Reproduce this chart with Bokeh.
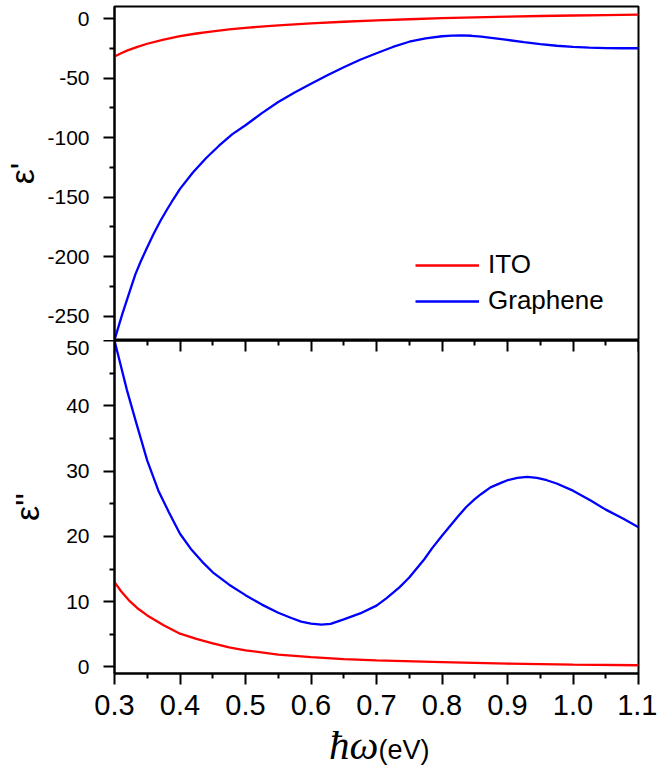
from bokeh.plotting import figure
from bokeh.layouts import column
from bokeh.models import (Range1d, FixedTicker, LinearAxis, Legend, LegendItem,
                          NumeralTickFormatter, Div)
from bokeh.embed import file_html
from bokeh.resources import INLINE

# ---------------- data ----------------
# real part (top panel)
x_ito_re = [0.300, 0.310, 0.320, 0.335, 0.350, 0.375, 0.400, 0.425, 0.450, 0.475,
            0.500, 0.550, 0.600, 0.650, 0.700, 0.750, 0.800, 0.850, 0.900, 0.950,
            1.000, 1.050, 1.100]
eps1_ito = [-31.7, -29.0, -26.6, -23.6, -21.0, -17.5, -14.6, -12.4, -10.6, -9.0,
            -7.6, -5.5, -3.8, -2.5, -1.4, -0.4, 0.5, 1.2, 1.8, 2.3,
            2.75, 3.1, 3.4]

x_gr_re = [0.300, 0.306, 0.312, 0.320, 0.326, 0.332, 0.340, 0.350, 0.360, 0.370,
           0.380, 0.390, 0.400, 0.420, 0.440, 0.460, 0.480, 0.500, 0.525, 0.550,
           0.575, 0.600, 0.625, 0.650, 0.675, 0.700, 0.725, 0.750, 0.775, 0.800,
           0.815, 0.830, 0.845, 0.860, 0.875, 0.900, 0.925, 0.950, 0.975, 1.000,
           1.025, 1.050, 1.075, 1.100]
eps1_gr = [-270.0, -259.0, -248.0, -234.5, -224.5, -214.6, -204.0, -192.0, -180.5, -170.0,
           -160.5, -151.5, -143.0, -129.0, -117.0, -106.5, -97.0, -89.5, -79.3, -70.0,
           -62.0, -54.6, -47.5, -40.7, -34.5, -29.0, -23.7, -19.3, -16.4, -14.7,
           -14.2, -14.0, -14.3, -15.0, -16.0, -17.8, -19.7, -21.3, -22.7, -23.7,
           -24.3, -24.6, -24.8, -24.8]

# imaginary part (bottom panel)
x_ito_im = [0.300, 0.310, 0.322, 0.335, 0.350, 0.375, 0.400, 0.425, 0.450, 0.475,
            0.500, 0.550, 0.600, 0.650, 0.700, 0.800, 0.900, 1.000, 1.100]
eps2_ito = [13.0, 11.6, 10.2, 9.0, 7.9, 6.4, 5.1, 4.3, 3.6, 3.0,
            2.55, 1.9, 1.5, 1.2, 1.0, 0.75, 0.5, 0.36, 0.26]

x_gr_im = [0.300, 0.309, 0.319, 0.332, 0.350, 0.367, 0.383, 0.400, 0.418, 0.434,
           0.450, 0.475, 0.500, 0.525, 0.550, 0.570, 0.585, 0.600, 0.616, 0.630,
           0.650, 0.675, 0.700, 0.715, 0.735, 0.750, 0.773, 0.785, 0.800, 0.824,
           0.837, 0.850, 0.860, 0.874, 0.890, 0.900, 0.915, 0.930, 0.945, 0.960,
           0.975, 1.000, 1.027, 1.050, 1.077, 1.100]
eps2_gr = [50.0, 46.4, 42.4, 37.8, 31.6, 27.0, 23.7, 20.4, 17.9, 16.1,
           14.5, 12.6, 11.0, 9.55, 8.3, 7.5, 6.95, 6.65, 6.5, 6.6,
           7.3, 8.2, 9.4, 10.5, 12.2, 13.7, 16.5, 18.2, 20.1, 23.0,
           24.5, 25.7, 26.5, 27.5, 28.2, 28.6, 28.95, 29.1, 28.95, 28.6,
           28.1, 27.0, 25.5, 24.1, 22.7, 21.4]

x_ticks = [0.3, 0.4, 0.5, 0.6, 0.7, 0.8, 0.9, 1.0, 1.1]
x_minor = [0.35, 0.45, 0.55, 0.65, 0.75, 0.85, 0.95, 1.05]
top_ticks = [0, -50, -100, -150, -200, -250]
top_minor = [-25, -75, -125, -175, -225]
bot_ticks = [0, 10, 20, 30, 40, 50]
bot_minor = [5, 15, 25, 35, 45]

series_names = ["ITO", "Graphene"]
colors = ["#FF0000", "#0000FF"]

FONT = "Liberation Sans"

TOP_LO, TOP_HI = -270.4, 10.3
BOT_LO, BOT_HI = -1.0, 50.0

xr = Range1d(0.3, 1.1)


def style_y(ax, ticks, minor, label, standoff):
    ax.ticker = FixedTicker(ticks=ticks, minor_ticks=minor)
    ax.major_label_overrides = {t: str(t) for t in ticks}
    ax.major_tick_out = 11
    ax.major_tick_in = 0
    ax.minor_tick_out = 5
    ax.minor_tick_in = 0
    ax.axis_line_width = 2
    ax.major_tick_line_width = 2
    ax.minor_tick_line_width = 2
    ax.axis_line_color = "black"
    ax.major_tick_line_color = "black"
    ax.minor_tick_line_color = "black"
    ax.major_label_text_font = FONT
    ax.major_label_text_font_size = "21px"
    ax.major_label_text_color = "black"
    ax.major_label_standoff = 14
    ax.axis_label = label
    ax.axis_label_text_font = FONT
    ax.axis_label_text_font_size = "34px"
    ax.axis_label_text_font_style = "normal"
    ax.axis_label_text_color = "black"
    ax.axis_label_standoff = standoff


# ---------------- top panel ----------------
top = figure(width=657, height=340, x_range=xr, y_range=Range1d(TOP_LO, TOP_HI),
             x_axis_location=None, toolbar_location=None, output_backend="svg",
             min_border_left=112, min_border_right=19, min_border_top=6,
             min_border_bottom=0)
top.grid.visible = False
top.outline_line_color = "black"
top.outline_line_width = 2
top.outline_line_alpha = 1.0
style_y(top.yaxis[0], top_ticks, top_minor, "ε'", 3)

r1 = top.line(x_ito_re, eps1_ito, line_color=colors[0], line_width=2.3)
r2 = top.line(x_gr_re, eps1_gr, line_color=colors[1], line_width=2.3)

legend = Legend(items=[LegendItem(label=series_names[0], renderers=[r1]),
                       LegendItem(label=series_names[1], renderers=[r2])],
                location=(301, 24))
legend.border_line_color = None
legend.background_fill_alpha = 0
legend.padding = 0
legend.margin = 0
legend.spacing = 5
legend.glyph_width = 64
legend.glyph_height = 30
legend.label_height = 30
legend.label_standoff = 9
legend.label_text_font = FONT
legend.label_text_font_size = "26px"
legend.label_text_color = "black"
top.add_layout(legend)

# ---------------- bottom panel ----------------
bot = figure(width=657, height=387, x_range=xr, y_range=Range1d(BOT_LO, BOT_HI),
             toolbar_location=None, output_backend="svg",
             min_border_left=112, min_border_right=19, min_border_top=0,
             min_border_bottom=54)
bot.grid.visible = False
bot.outline_line_color = "black"
bot.outline_line_width = 2
bot.outline_line_alpha = 1.0
style_y(bot.yaxis[0], bot_ticks, bot_minor, "ε''", 17)

xa = bot.xaxis[0]
xa.ticker = FixedTicker(ticks=x_ticks, minor_ticks=x_minor)
xa.formatter = NumeralTickFormatter(format="0.0")
xa.major_tick_out = 11
xa.major_tick_in = 0
xa.minor_tick_out = 5
xa.minor_tick_in = 0
xa.axis_line_width = 2
xa.major_tick_line_width = 2
xa.minor_tick_line_width = 2
xa.major_label_text_font = FONT
xa.major_label_text_font_size = "29px"
xa.major_label_text_color = "black"
xa.major_label_standoff = 10

mid = LinearAxis(fixed_location=BOT_HI, ticker=FixedTicker(ticks=x_ticks, minor_ticks=x_minor),
                 major_tick_in=11, major_tick_out=0, minor_tick_in=5, minor_tick_out=0,
                 axis_line_width=2, major_tick_line_width=2, minor_tick_line_width=2,
                 major_label_text_font_size="0px", major_label_text_color=None)
bot.add_layout(mid, "above")

bot.line(x_ito_im, eps2_ito, line_color=colors[0], line_width=2.3)
bot.line(x_gr_im, eps2_gr, line_color=colors[1], line_width=2.3)

# x-axis title: italic serif symbol followed by the unit in sans
xlabel = Div(
    text=('<div style="position:relative;width:657px;height:40px;margin:0;padding:0;">'
          '<div style="position:absolute;left:329px;top:-2px;line-height:40px;'
          'white-space:nowrap;color:black;">'
          '<span style="font-family:\'Liberation Serif\';font-style:italic;'
          'font-size:41px;">ħω</span>'
          '<span style="font-family:\'Liberation Sans\';font-size:27px;">(eV)</span>'
          '</div></div>'),
    width=657, height=40, margin=(0, 0, 0, 0))

p = column(top, bot, xlabel, spacing=0)

open("out.html", "w").write(file_html(p, INLINE))
